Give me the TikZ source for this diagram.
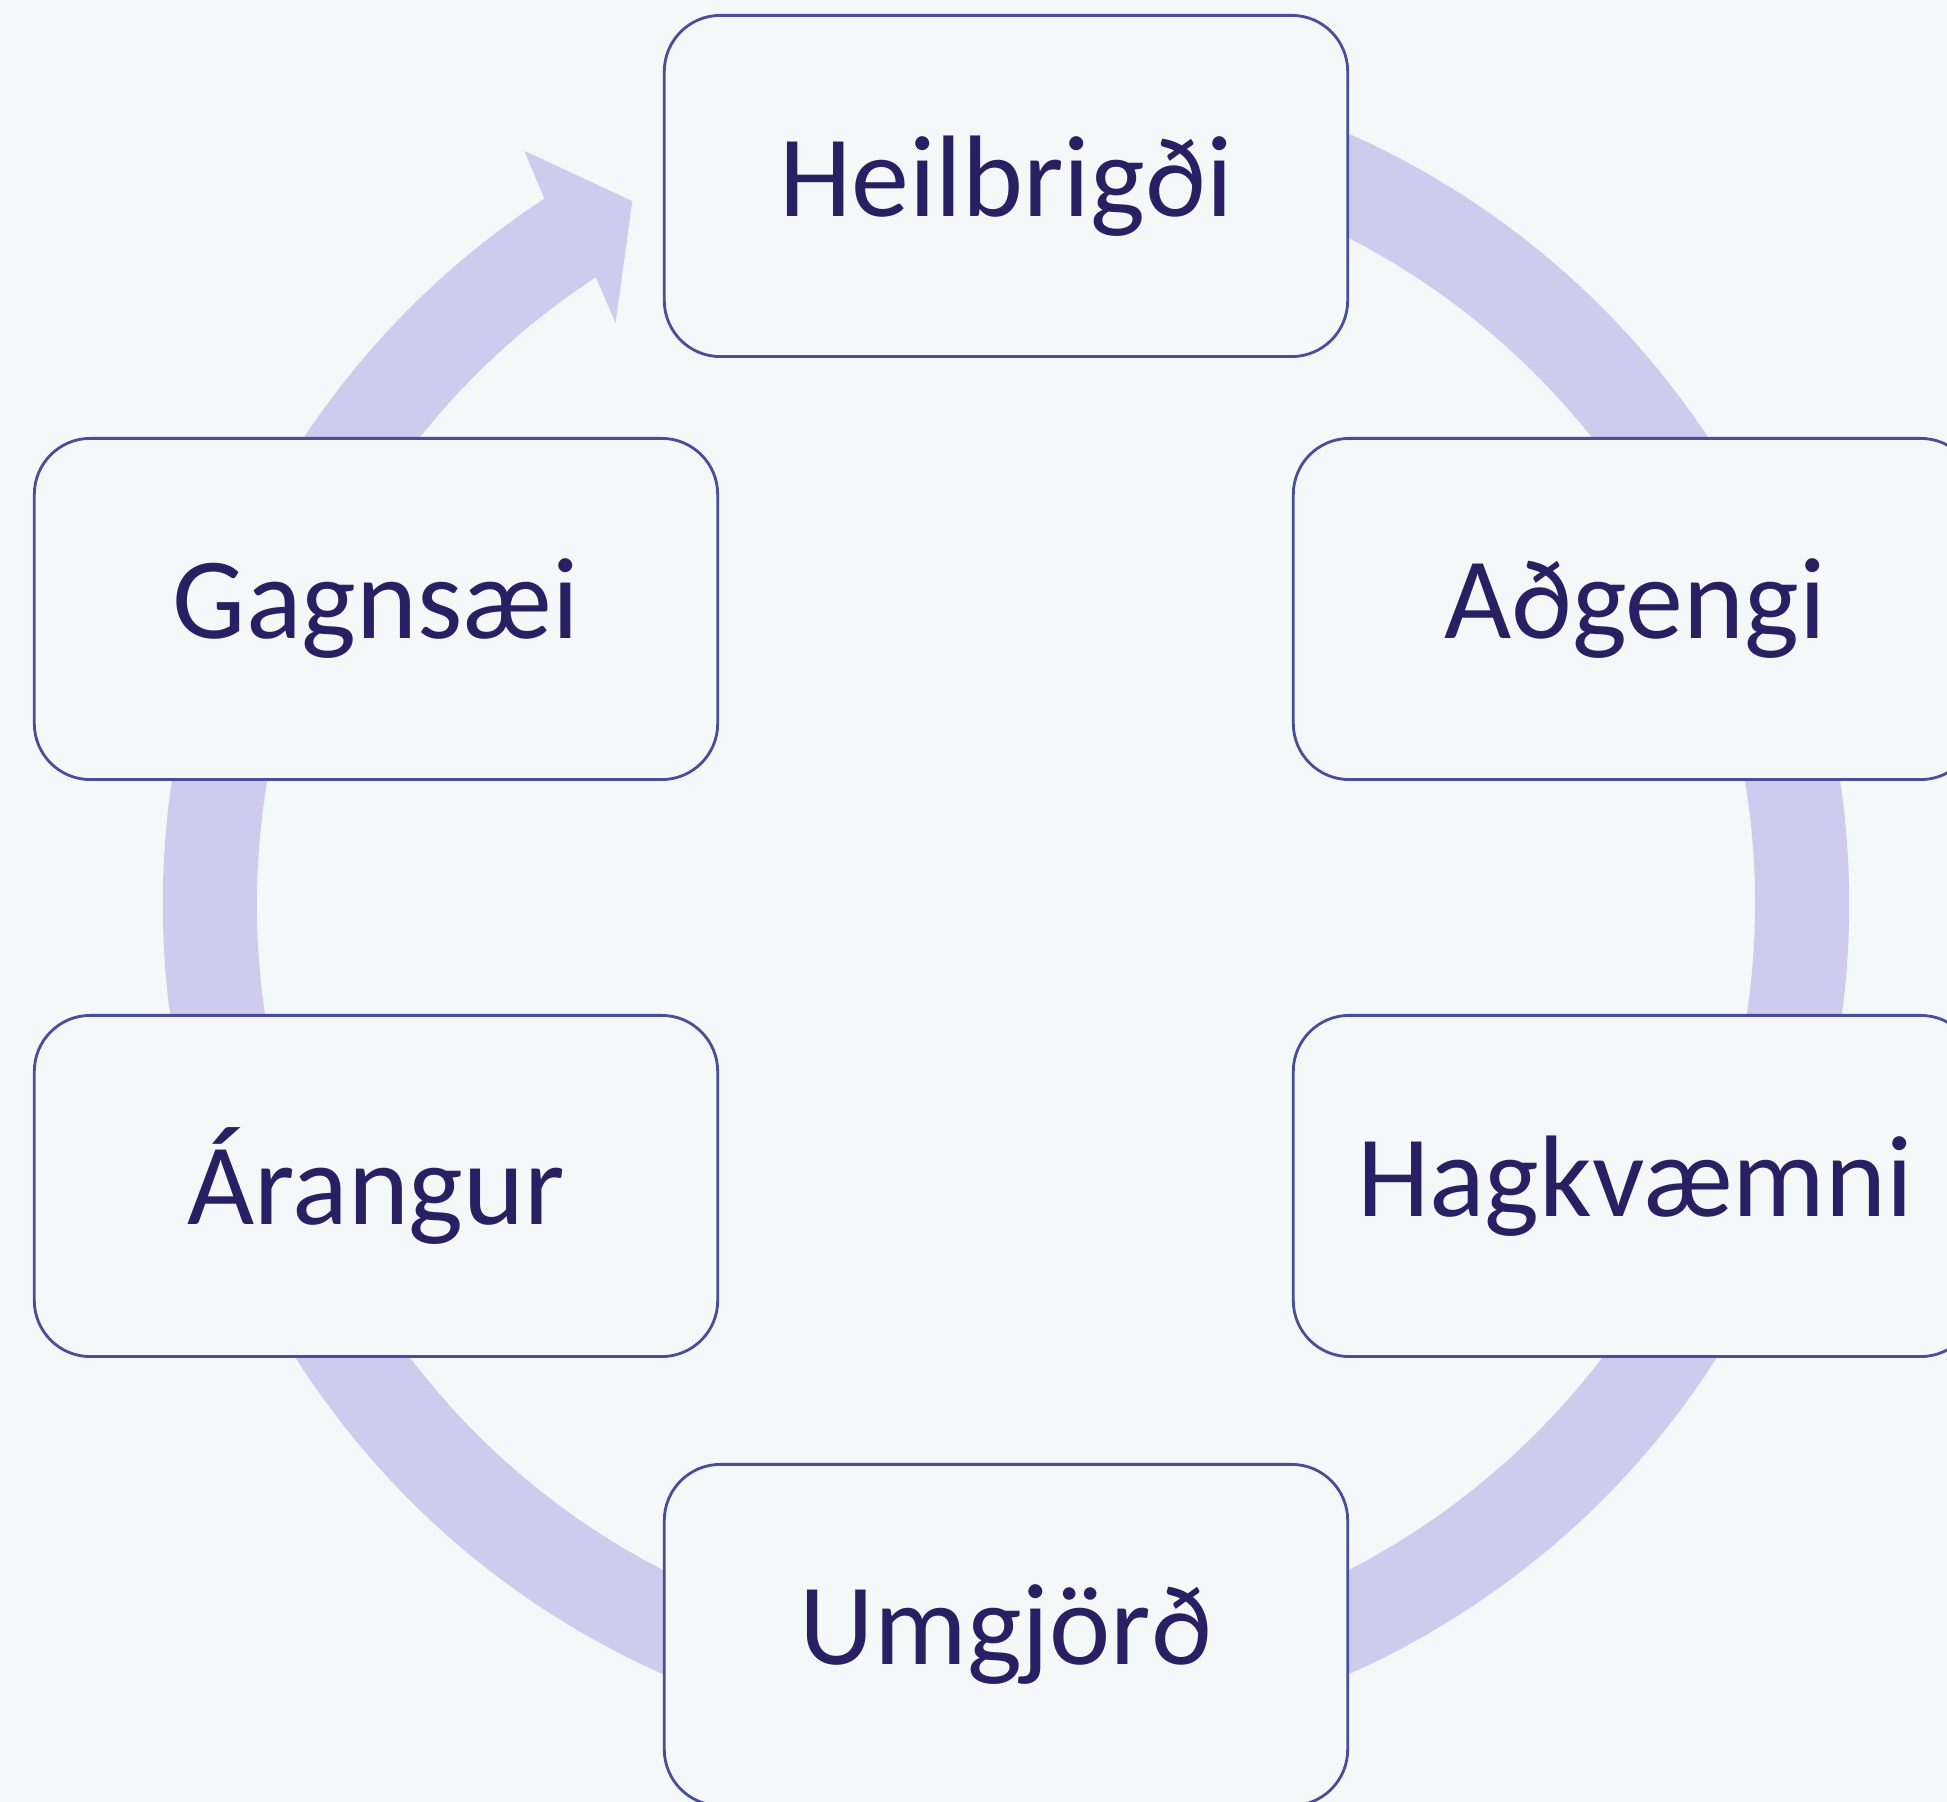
\documentclass[tikz,border=0pt]{standalone}
\usepackage{fontspec}
\setmainfont{Carlito}
\usepackage{tikz}
\usetikzlibrary{positioning}
\definecolor{bgfill}{RGB}{244,248,249}
\definecolor{ringcol}{RGB}{207,203,238}
\definecolor{boxline}{RGB}{74,78,154}
\definecolor{txtcol}{RGB}{40,32,99}
\tikzset{
  stage/.style={draw=boxline, fill=bgfill, line width=0.8pt, rounded corners=0.56cm,
                minimum width=6.83cm, minimum height=3.41cm, text=txtcol,
                font=\fontsize{33}{40}\selectfont},
}

\begin{document}
\begin{tikzpicture}[x=0.01cm, y=0.01cm]
  \fill[bgfill] (0,0) rectangle (1947,1802);
  \useasboundingbox (0,0) rectangle (1947,1802);
  % ring with arrow head, clockwise
  \begin{scope}[shift={(1006,898)}]
    \fill[ringcol] (72:843) arc[start angle=72, end angle=-236.8, radius=843]
      -- (-237.4:894) -- (-242:796) -- (-236.1:700) -- (-236.8:749)
      arc[start angle=-236.8, end angle=72, radius=749] -- cycle;
  \end{scope}
  \node[stage] (heil) at (1006,1616) {Heilbrigði};
  \node[stage] (adg)  at (1635,1193) {Aðgengi};
  \node[stage] (hagk) at (1635,616)  {Hagkvæmni};
  \node[stage] (umg)  at (1006,167)  {Umgjörð};
  \node[stage] (aran) at (376,616)   {Árangur};
  \node[stage] (gagn) at (376,1193)  {Gagnsæi};
\end{tikzpicture}
\end{document}
